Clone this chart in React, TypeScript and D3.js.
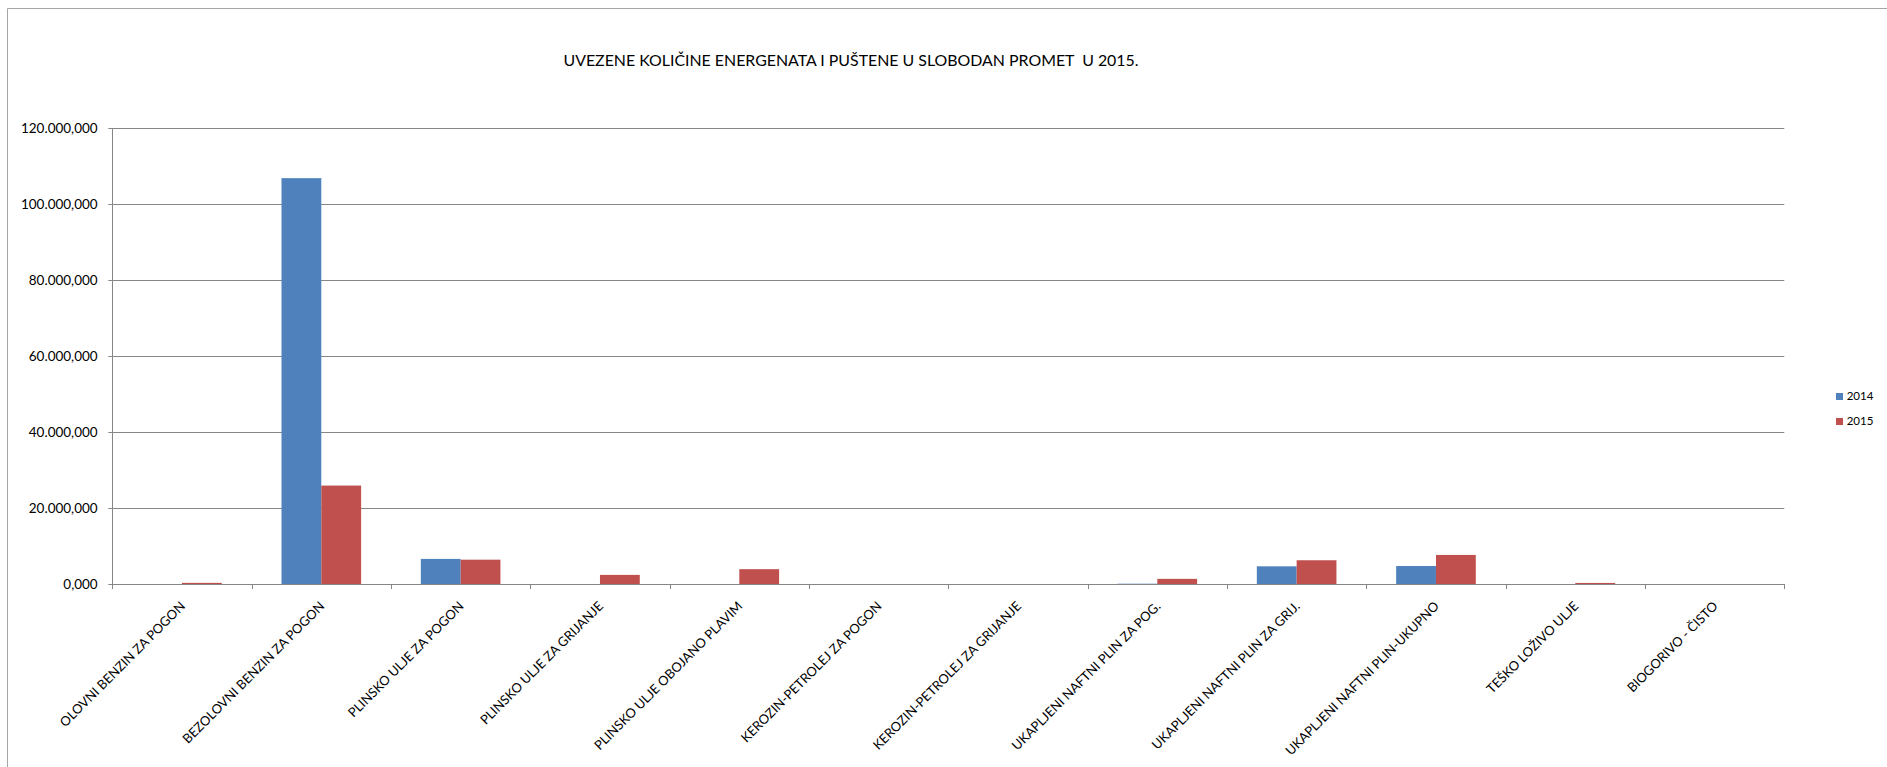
import React from "react";
import * as d3 from "d3";

const title = "UVEZENE KOLIČINE ENERGENATA I PUŠTENE U SLOBODAN PROMET  U 2015.";
const categories = [
  "OLOVNI BENZIN ZA POGON",
  "BEZOLOVNI BENZIN ZA POGON",
  "PLINSKO ULJE ZA POGON",
  "PLINSKO ULJE ZA GRIJANJE",
  "PLINSKO ULJE OBOJANO PLAVIM",
  "KEROZIN-PETROLEJ ZA POGON",
  "KEROZIN-PETROLEJ ZA GRIJANJE",
  "UKAPLJENI NAFTNI PLIN ZA POG.",
  "UKAPLJENI NAFTNI PLIN ZA GRIJ.",
  "UKAPLJENI NAFTNI PLIN-UKUPNO",
  "TEŠKO LOŽIVO ULJE",
  "BIOGORIVO - ČISTO",
];
const seriesNames = ["2014", "2015"];
const values2014 = [0, 106800, 6600, 0, 0, 0, 0, 80, 4650, 4730, 0, 0];
const values2015 = [300, 25900, 6400, 2400, 3900, 0, 0, 1350, 6250, 7650, 280, 0];
const yTicks = [0, 20000, 40000, 60000, 80000, 100000, 120000];
const colors = ["#4F81BD", "#C0504D"];

const W = 1887;
const H = 767;
const left = 112.3;
const right = 1784.3;
const top = 128;
const bottom = 584;
const FONT = "Lato, 'Open Sans', sans-serif";

const locale = d3.formatLocale({
  decimal: ",",
  thousands: ".",
  grouping: [3],
  currency: ["", ""],
});
const fmt = locale.format(",.3f");

export default function App() {
  const x = d3
    .scaleBand<string>()
    .domain(categories)
    .range([left, right])
    .paddingInner(1.5 / 3.5)
    .paddingOuter(0.75 / 3.5);
  const xs = d3.scaleBand<string>().domain(seriesNames).range([0, x.bandwidth()]);
  const y = d3.scaleLinear().domain([0, 120000]).range([bottom, top]);
  const step = x.step();
  const series = [values2014, values2015];
  const grid = "#868686";

  return (
    <>
      <style>{`body{margin:0;overflow:hidden;}`}</style>
      <svg width={W} height={H} style={{ display: "block", background: "#fff" }}>
        <path d={`M7.5,${H} V8.5 H${W}`} fill="none" stroke="#a6a6a6" strokeWidth={1} />
        <text
          x={851}
          y={65.7}
          textAnchor="middle"
          fontFamily={FONT}
          fontSize={15.9}
          fill="#000"
          style={{ whiteSpace: "pre" }}
        >
          {title}
        </text>
        {yTicks.map((t) => (
          <g key={t}>
            <line
              x1={left - 4}
              x2={right}
              y1={Math.round(y(t)) + 0.5}
              y2={Math.round(y(t)) + 0.5}
              stroke={grid}
              strokeWidth={1}
            />
            <text
              x={97.7}
              y={y(t)}
              dy="0.35em"
              textAnchor="end"
              fontFamily={FONT}
              fontSize={13.5}
              fill="#000"
            >
              {fmt(t)}
            </text>
          </g>
        ))}
        <line x1={Math.round(left) + 0.5} x2={Math.round(left) + 0.5} y1={top} y2={bottom + 5} stroke={grid} />
        {categories.map((c, i) => (
          <line
            key={"tk" + i}
            x1={Math.round(left + step * (i + 1)) + 0.5}
            x2={Math.round(left + step * (i + 1)) + 0.5}
            y1={bottom}
            y2={bottom + 5}
            stroke={grid}
          />
        ))}
        {categories.map((c, i) =>
          series.map((vals, s) => {
            const v = vals[i];
            if (!v) return null;
            const x0 = (x(c) as number) + (xs(seriesNames[s]) as number);
            const y0 = y(v);
            return (
              <rect
                key={c + s}
                x={x0}
                y={y0}
                width={xs.bandwidth()}
                height={bottom - y0}
                fill={colors[s]}
              />
            );
          })
        )}
        {categories.map((c, i) => {
          const cx = left + step * (i + 0.5);
          return (
            <text
              key={"l" + i}
              transform={`translate(${cx + 4},${607}) rotate(-45)`}
              textAnchor="end"
              fontFamily={FONT}
              fontSize={13}
              fill="#000"
            >
              {c}
            </text>
          );
        })}
        {seriesNames.map((s, i) => (
          <g key={s}>
            <rect x={1836} y={393 + i * 25} width={7} height={7} fill={colors[i]} />
            <text x={1846.7} y={400 + i * 25} fontFamily={FONT} fontSize={11.5} fill="#000">
              {s}
            </text>
          </g>
        ))}
      </svg>
    </>
  );
}
